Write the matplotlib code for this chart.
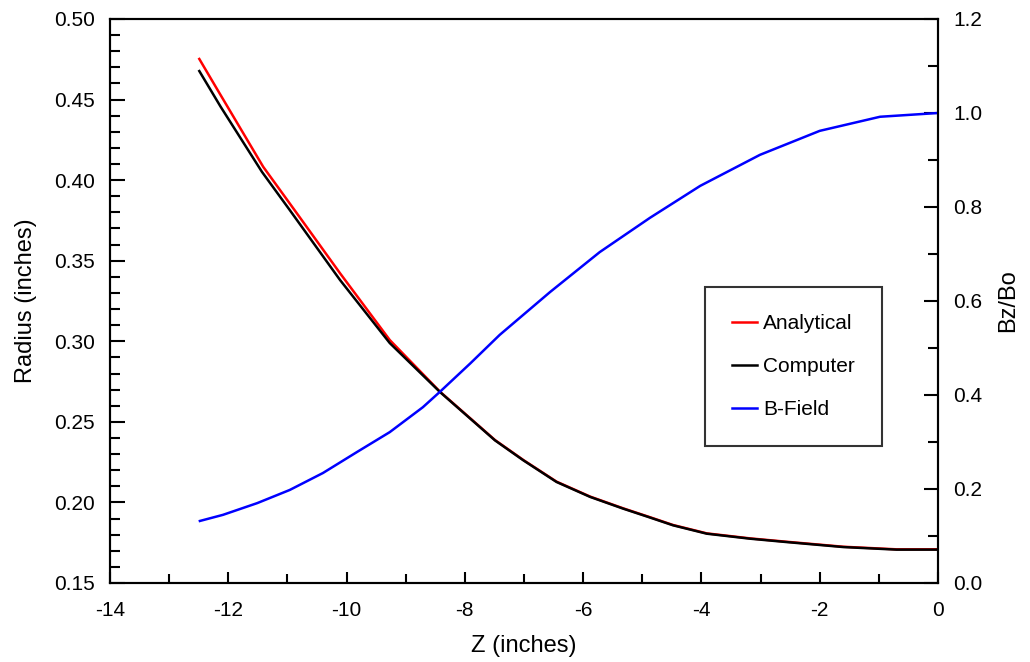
import matplotlib
matplotlib.use("Agg")
import matplotlib.pyplot as plt
from matplotlib.ticker import MultipleLocator, FormatStrFormatter

plt.rcParams["font.family"] = ["Liberation Sans", "DejaVu Sans"]
plt.rcParams["axes.unicode_minus"] = False

# values
z_analytical = [-12.49, -12.18, -11.41, -10.84, -10.11, -9.27, -8.42, -7.49, -7.01, -6.45,
                -5.88, -5.32, -4.90, -4.48, -3.91, -3.18, -2.56, -1.60, -0.70, 0.0]
r_analytical = [0.4752, 0.4559, 0.4083, 0.3794, 0.3422, 0.3008, 0.2687, 0.2387, 0.2263, 0.2129,
                0.2036, 0.1963, 0.1912, 0.1860, 0.1808, 0.1777, 0.1756, 0.1725, 0.1709, 0.1709]

z_computer = [-12.49, -12.13, -11.43, -10.96, -10.11, -9.27, -8.42, -7.49, -7.01, -6.45,
              -5.88, -5.32, -4.90, -4.48, -3.91, -3.18, -2.56, -1.60, -0.70, 0.0]
r_computer = [0.4677, 0.4456, 0.4051, 0.3814, 0.3380, 0.2989, 0.2685, 0.2385, 0.2261, 0.2127,
              0.2034, 0.1961, 0.1910, 0.1858, 0.1806, 0.1775, 0.1754, 0.1723, 0.1707, 0.1707]

z_field = [-12.48, -12.09, -11.51, -10.96, -10.40, -9.82, -9.27, -8.71, -8.42, -7.91,
           -7.41, -6.56, -5.72, -4.87, -4.02, -3.01, -2.00, -0.98, 0.0]
b_field = [0.132, 0.145, 0.170, 0.198, 0.234, 0.279, 0.321, 0.374, 0.407, 0.467,
           0.528, 0.619, 0.704, 0.777, 0.845, 0.911, 0.962, 0.992, 1.0]

fig = plt.figure(figsize=(10.3, 6.62), dpi=100)
ax = fig.add_axes([110 / 1030, 79 / 662, 828 / 1030, 564 / 662])
ax2 = ax.twinx()

l1, = ax.plot(z_analytical, r_analytical, color="red", lw=1.8, label="Analytical")
l2, = ax.plot(z_computer, r_computer, color="black", lw=1.8, label="Computer")
l3, = ax2.plot(z_field, b_field, color="blue", lw=1.8, label="B-Field")

ax.set_xlim(-14, 0)
ax.set_ylim(0.15, 0.50)
ax2.set_ylim(0.0, 1.2)

ax.xaxis.set_major_locator(MultipleLocator(2))
ax.xaxis.set_minor_locator(MultipleLocator(1))
ax.yaxis.set_major_locator(MultipleLocator(0.05))
ax.yaxis.set_minor_locator(MultipleLocator(0.01))
ax.yaxis.set_major_formatter(FormatStrFormatter("%.2f"))
ax2.yaxis.set_major_locator(MultipleLocator(0.2))
ax2.yaxis.set_minor_locator(MultipleLocator(0.1))
ax2.yaxis.set_major_formatter(FormatStrFormatter("%.1f"))

ax.tick_params(axis="y", which="both", direction="in", right=False, width=1.5,
               labelsize=15, pad=11)
ax.tick_params(axis="y", which="major", length=10.5)
ax.tick_params(axis="y", which="minor", length=7.2)
ax.tick_params(axis="x", which="both", direction="in", top=False, width=1.5,
               labelsize=15, pad=13)
ax.tick_params(axis="x", which="major", length=8)
ax.tick_params(axis="x", which="minor", length=6.5)
ax2.tick_params(axis="y", which="both", direction="in", width=1.5, labelsize=15, pad=11)
ax2.tick_params(axis="y", which="major", length=10)
ax2.tick_params(axis="y", which="minor", length=7.2)

for a in (ax, ax2):
    for s in a.spines.values():
        s.set_linewidth(1.5)

ax.set_xlabel("Z (inches)", fontsize=17)
ax.set_ylabel("Radius (inches)", fontsize=17)
ax2.set_ylabel("Bz/Bo", fontsize=17)
ax.xaxis.set_label_coords(0.5, -0.093)
ax.yaxis.set_label_coords(-0.088, 0.5)
ax2.yaxis.set_label_coords(1.072, 0.5)

leg = ax2.legend(handles=[l1, l2, l3], loc="upper left",
                 bbox_to_anchor=(705 / 1030, 1 - 287 / 662), bbox_transform=fig.transFigure,
                 fontsize=15, frameon=True, fancybox=False, edgecolor="black",
                 borderpad=1.3, handlelength=1.2, handletextpad=0.3, labelspacing=1.15,
                 borderaxespad=0)
leg.get_frame().set_linewidth(1.5)

fig.savefig("out.png", dpi=100)
